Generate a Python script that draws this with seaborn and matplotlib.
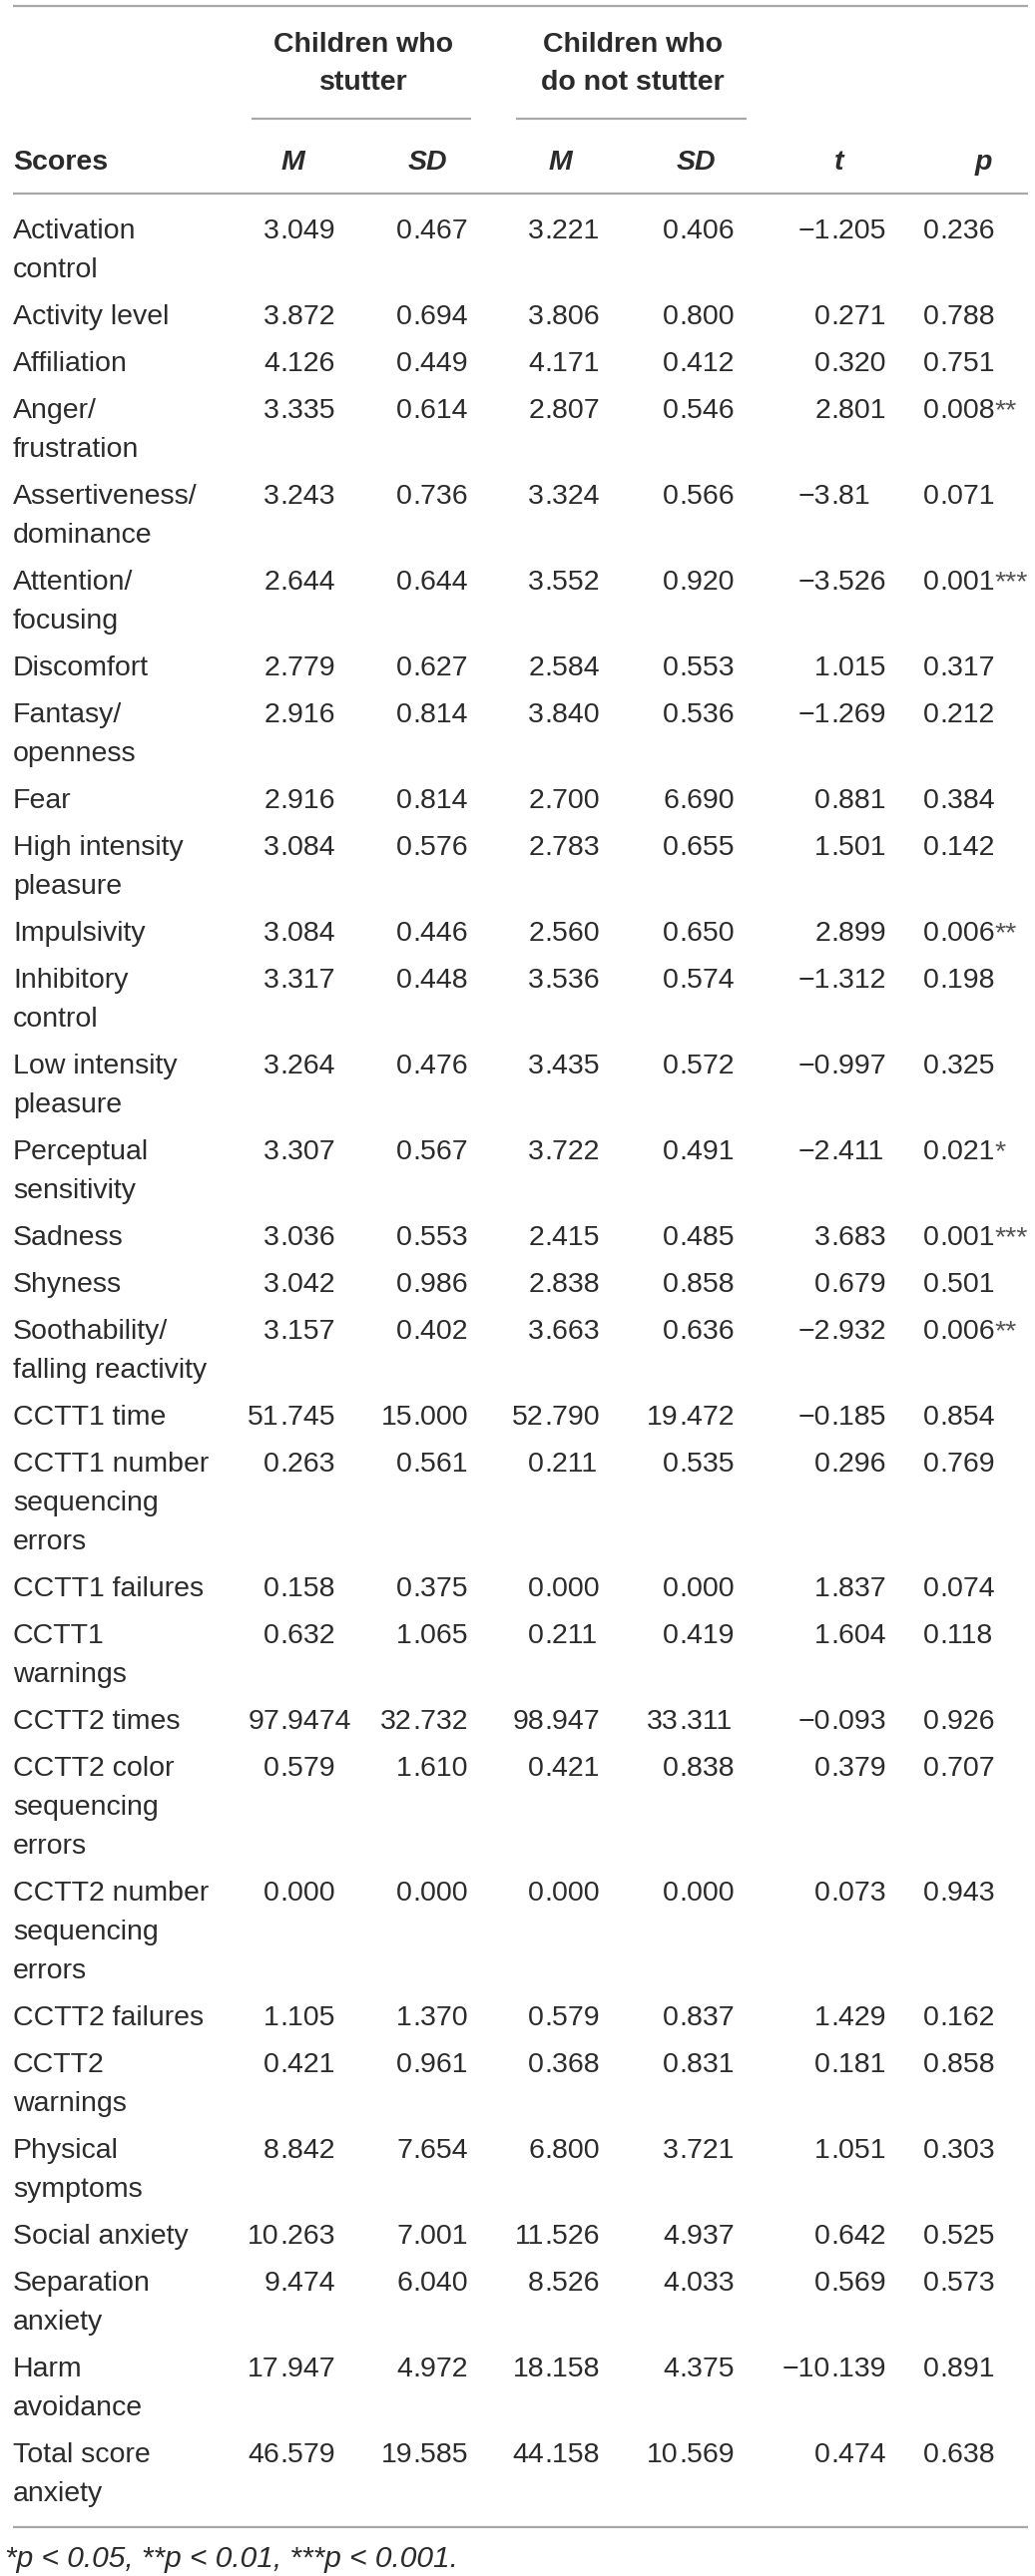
import matplotlib
matplotlib.use("Agg")
import matplotlib.pyplot as plt
import seaborn as sns

# table content
scores = ["Activation\ncontrol", "Activity level", "Affiliation", "Anger/\nfrustration",
          "Assertiveness/\ndominance", "Attention/\nfocusing", "Discomfort", "Fantasy/\nopenness",
          "Fear", "High intensity\npleasure", "Impulsivity", "Inhibitory\ncontrol",
          "Low intensity\npleasure", "Perceptual\nsensitivity", "Sadness", "Shyness",
          "Soothability/\nfalling reactivity", "CCTT1 time", "CCTT1 number\nsequencing\nerrors",
          "CCTT1 failures", "CCTT1\nwarnings", "CCTT2 times", "CCTT2 color\nsequencing\nerrors",
          "CCTT2 number\nsequencing\nerrors", "CCTT2 failures", "CCTT2\nwarnings",
          "Physical\nsymptoms", "Social anxiety", "Separation\nanxiety", "Harm\navoidance",
          "Total score\nanxiety"]
m_cws = ["3.049", "3.872", "4.126", "3.335", "3.243", "2.644", "2.779", "2.916", "2.916", "3.084",
         "3.084", "3.317", "3.264", "3.307", "3.036", "3.042", "3.157", "51.745", "0.263", "0.158",
         "0.632", "97.9474", "0.579", "0.000", "1.105", "0.421", "8.842", "10.263", "9.474",
         "17.947", "46.579"]
sd_cws = ["0.467", "0.694", "0.449", "0.614", "0.736", "0.644", "0.627", "0.814", "0.814", "0.576",
          "0.446", "0.448", "0.476", "0.567", "0.553", "0.986", "0.402", "15.000", "0.561", "0.375",
          "1.065", "32.732", "1.610", "0.000", "1.370", "0.961", "7.654", "7.001", "6.040",
          "4.972", "19.585"]
m_cwns = ["3.221", "3.806", "4.171", "2.807", "3.324", "3.552", "2.584", "3.840", "2.700", "2.783",
          "2.560", "3.536", "3.435", "3.722", "2.415", "2.838", "3.663", "52.790", "0.211", "0.000",
          "0.211", "98.947", "0.421", "0.000", "0.579", "0.368", "6.800", "11.526", "8.526",
          "18.158", "44.158"]
sd_cwns = ["0.406", "0.800", "0.412", "0.546", "0.566", "0.920", "0.553", "0.536", "6.690", "0.655",
           "0.650", "0.574", "0.572", "0.491", "0.485", "0.858", "0.636", "19.472", "0.535", "0.000",
           "0.419", "33.311", "0.838", "0.000", "0.837", "0.831", "3.721", "4.937", "4.033",
           "4.375", "10.569"]
t_vals = ["\u22121.205", "0.271", "0.320", "2.801", "\u22123.81", "\u22123.526", "1.015", "\u22121.269",
          "0.881", "1.501", "2.899", "\u22121.312", "\u22120.997", "\u22122.411", "3.683", "0.679",
          "\u22122.932", "\u22120.185", "0.296", "1.837", "1.604", "\u22120.093", "0.379", "0.073",
          "1.429", "0.181", "1.051", "0.642", "0.569", "\u221210.139", "0.474"]
p_vals = ["0.236", "0.788", "0.751", "0.008", "0.071", "0.001", "0.317", "0.212", "0.384", "0.142",
          "0.006", "0.198", "0.325", "0.021", "0.001", "0.501", "0.006", "0.854", "0.769", "0.074",
          "0.118", "0.926", "0.707", "0.943", "0.162", "0.858", "0.303", "0.525", "0.573", "0.891",
          "0.638"]
stars = ["", "", "", "**", "", "***", "", "", "", "", "**", "", "", "*", "***", "", "**",
         "", "", "", "", "", "", "", "", "", "", "", "", "", ""]
group_titles = ["Children who\nstutter", "Children who\ndo not stutter"]
col_heads = ["M", "SD", "M", "SD", "t", "p"]
footnote = "*p < 0.05, **p < 0.01, ***p < 0.001."

sns.set_theme(style="white")
plt.rcParams["font.family"] = ["Liberation Sans", "DejaVu Sans"]

W, H = 1037, 2582
fig = plt.figure(figsize=(W / 100, H / 100), dpi=100)
ax = fig.add_axes([0, 0, 1, 1])
ax.set_xlim(0, W)
ax.set_ylim(H, 0)
ax.axis("off")

fs = 20.5          # pt (~28.5 px)
px = fs / 0.72     # font size in pixels
ink = "#2b2b2b"
rule = "#a8a8a8"


def put(x, y, s, **kw):
    # y is the vertical centre of the digits / capitals
    size = kw.pop("fontsize", fs)
    return ax.text(x, y + 0.36 * size / 0.72, s, va="baseline", fontsize=size,
                   color=kw.pop("color", ink), **kw)


# rules
ax.hlines([6, 194, 2533], 13, 1030, color=rule, lw=1.6)
ax.hlines(119, 252, 472, color=rule, lw=1.6)
ax.hlines(119, 517, 748, color=rule, lw=1.6)

# header
for cx, title in zip([364, 634], group_titles):
    for k, line in enumerate(title.split("\n")):
        put(cx, 42 + 38 * k, line, ha="center", fontweight="bold")
put(13, 160, "Scores", ha="left", fontweight="bold")
for cx, h in zip([293, 428, 561, 697, 841, 985], col_heads):
    put(cx, 160, h, ha="center", fontweight="bold", fontstyle="italic")

# body, numbers aligned on the decimal point
dec_x = [280, 413, 545, 680, 832, 941]
columns = [m_cws, sd_cws, m_cwns, sd_cwns, t_vals, p_vals]
row_pitch, line_pitch = 47, 39
y = 229
for i, label in enumerate(scores):
    lines = label.split("\n")
    for k, line in enumerate(lines):
        put(13, y + k * line_pitch, line, ha="left")
    for j, (xd, col) in enumerate(zip(dec_x, columns)):
        ip, fp = col[i].split(".")
        put(xd, y, ip, ha="right")
        last = put(xd, y, "." + fp, ha="left")
    if stars[i]:
        ax.annotate(stars[i], xy=(1, 0), xycoords=last, va="bottom", ha="left",
                    fontsize=fs, color="#555555")
    y += row_pitch + (len(lines) - 1) * line_pitch

# footnote
put(5, 2562, footnote, ha="left", fontstyle="italic", fontsize=21.5)

fig.savefig("out.png", dpi=100)
